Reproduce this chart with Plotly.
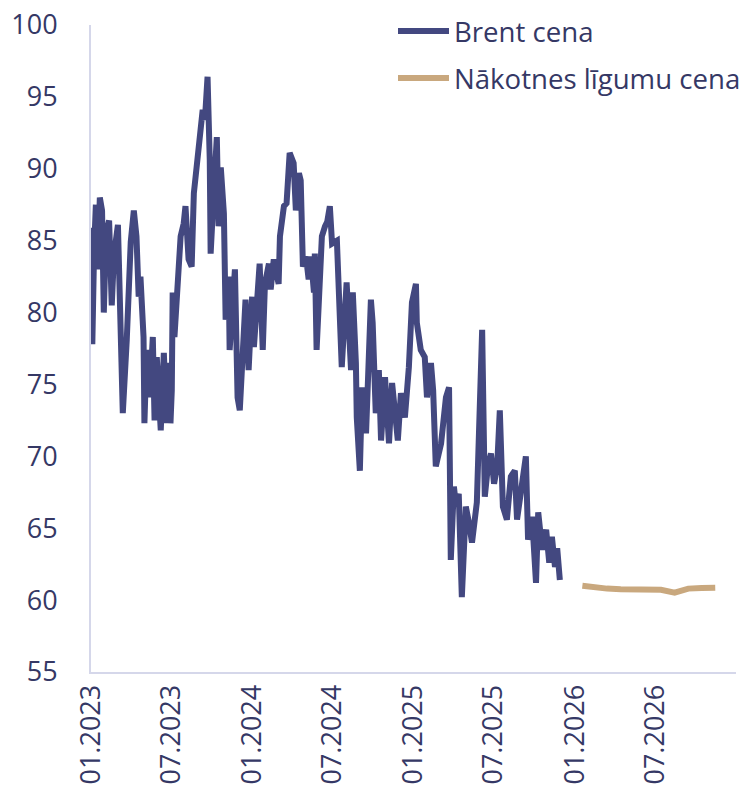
import plotly.graph_objects as go

# Brent price (USD/bbl)
brent_dates = [
    "2023-01-02", "2023-01-04", "2023-01-08", "2023-01-12", "2023-01-16", "2023-01-21",
    "2023-01-26", "2023-01-30", "2023-02-04", "2023-02-11", "2023-02-17", "2023-02-22",
    "2023-03-03", "2023-03-07", "2023-03-14", "2023-03-23",
    "2023-04-01", "2023-04-08", "2023-04-14", "2023-04-19", "2023-04-23", "2023-04-30",
    "2023-05-02", "2023-05-07", "2023-05-14", "2023-05-21", "2023-05-25", "2023-05-30",
    "2023-06-08", "2023-06-15", "2023-06-21", "2023-06-26", "2023-06-30", "2023-07-03",
    "2023-07-05", "2023-07-09", "2023-07-19", "2023-07-23", "2023-07-30", "2023-08-03",
    "2023-08-10", "2023-08-17", "2023-08-22", "2023-08-31", "2023-09-04", "2023-09-11",
    "2023-09-16", "2023-09-22", "2023-09-27", "2023-09-29", "2023-10-06", "2023-10-13",
    "2023-10-17", "2023-10-22", "2023-10-29", "2023-11-02", "2023-11-09", "2023-11-11",
    "2023-11-23", "2023-11-29", "2023-12-04", "2023-12-13", "2023-12-17", "2023-12-24",
    "2023-12-29", "2024-01-01", "2024-01-05", "2024-01-11", "2024-01-18", "2024-01-25",
    "2024-01-30", "2024-02-08", "2024-02-12", "2024-02-19", "2024-03-01", "2024-03-04",
    "2024-03-13", "2024-03-19", "2024-03-26", "2024-04-04", "2024-04-09", "2024-04-16",
    "2024-04-20", "2024-04-25", "2024-05-02", "2024-05-08", "2024-05-13", "2024-05-20",
    "2024-05-22", "2024-05-26", "2024-06-02", "2024-06-07", "2024-06-14", "2024-06-19",
    "2024-06-25", "2024-06-30", "2024-07-11", "2024-07-15", "2024-07-22", "2024-08-02",
    "2024-08-12", "2024-08-16", "2024-08-23", "2024-08-25", "2024-09-01", "2024-09-06",
    "2024-09-15", "2024-09-26", "2024-09-30", "2024-10-07", "2024-10-14", "2024-10-19",
    "2024-10-28", "2024-11-06", "2024-11-13", "2024-11-26", "2024-12-03", "2024-12-12",
    "2024-12-21", "2024-12-28", "2025-01-06", "2025-01-08", "2025-01-17", "2025-01-26",
    "2025-01-31", "2025-02-09", "2025-02-14", "2025-02-20", "2025-03-04", "2025-03-15",
    "2025-03-22", "2025-03-26", "2025-04-02", "2025-04-07", "2025-04-13", "2025-04-20",
    "2025-04-29", "2025-05-06", "2025-05-13", "2025-05-24", "2025-05-31", "2025-06-05",
    "2025-06-11", "2025-06-18", "2025-06-25", "2025-07-02", "2025-07-09", "2025-07-15",
    "2025-07-22", "2025-07-31", "2025-08-09", "2025-08-18", "2025-08-23", "2025-09-03",
    "2025-09-12", "2025-09-17", "2025-09-26", "2025-10-05", "2025-10-10", "2025-10-19",
    "2025-10-28", "2025-11-04", "2025-11-10", "2025-11-17", "2025-11-22", "2025-11-28",
]
brent_values = [
    85.9, 77.8, 84.3, 87.5, 83.0, 88.0,
    87.1, 80.0, 85.5, 86.4, 80.5, 84.0,
    86.1, 81.8, 73.0, 78.1,
    84.9, 87.1, 85.3, 81.1, 82.5, 78.3,
    72.3, 77.4, 74.1, 78.3, 72.5, 76.9,
    71.8, 77.2, 72.3, 76.5, 72.3, 74.6,
    81.4, 78.3, 83.7, 85.3, 86.2, 87.4,
    83.7, 83.2, 88.3, 90.6, 92.2, 94.1,
    93.4, 96.4, 90.6, 84.1, 88.3, 92.2,
    86.0, 90.1, 86.9, 79.5, 82.5, 77.4,
    83.0, 74.1, 73.2, 79.5, 80.9, 76.0,
    79.0, 81.1, 77.6, 80.0, 83.4, 77.4,
    82.0, 83.4, 81.6, 83.7, 82.0, 85.3,
    87.4, 87.6, 91.1, 90.4, 87.1, 89.7,
    89.2, 83.2, 83.9, 82.3, 83.9, 81.4,
    84.1, 77.4, 82.3, 85.3, 86.0, 86.3,
    87.4, 84.8, 85.0, 82.3, 76.2, 82.1,
    76.0, 81.4, 76.5, 72.7, 69.0, 74.8,
    71.6, 80.9, 79.3, 73.0, 76.0, 71.1,
    75.5, 70.9, 75.1, 71.1, 74.4, 72.7,
    76.2, 80.7, 82.0, 79.3, 77.4, 76.9,
    74.1, 76.5, 74.6, 69.3, 70.9, 74.1,
    74.8, 62.8, 67.9, 66.5, 67.4, 60.2,
    66.5, 65.4, 64.0, 66.8, 74.1, 78.8,
    67.2, 69.3, 70.2, 68.1, 69.3, 73.2,
    66.5, 65.6, 68.6, 69.0, 65.6, 68.1,
    70.0, 64.2, 65.8, 61.2, 66.1, 63.5,
    64.9, 62.6, 64.4, 62.3, 63.6, 61.4,
]

# Futures contract price
fut_dates = [
    "2026-01-18", "2026-02-15", "2026-03-15", "2026-04-15", "2026-05-15", "2026-06-15",
    "2026-07-15", "2026-08-15", "2026-09-15", "2026-10-15", "2026-11-15",
]
fut_values = [61.0, 60.88, 60.8, 60.76, 60.76, 60.77, 60.72, 60.52, 60.8, 60.84, 60.86]

tick_vals = ["2023-01-01", "2023-07-01", "2024-01-01", "2024-07-01",
             "2025-01-01", "2025-07-01", "2026-01-01", "2026-07-01"]
tick_text = ["01.2023", "07.2023", "01.2024", "07.2024",
             "01.2025", "07.2025", "01.2026", "07.2026"]

series_names = ["Brent cena", "Nākotnes līgumu cena"]

navy = "#434880"
tan = "#c9a87e"
text_col = "#353865"
axis_col = "#d5d7ea"

fig = go.Figure()
fig.add_trace(go.Scatter(x=brent_dates, y=brent_values, mode="lines", name=series_names[0],
                         line=dict(color=navy, width=6), showlegend=False))
fig.add_trace(go.Scatter(x=fut_dates, y=fut_values, mode="lines", name=series_names[1],
                         line=dict(color=tan, width=6), showlegend=False))

# The page body adds an 8px offset, so the figure is sized to fill the window.
OFF = 8
W, H = 748 - OFF, 799 - OFF
ml, mt = 91 - OFF, 25 - OFF
pw, ph = 645, 647
mr, mb = W - ml - pw, H - mt - ph

def px_x(x):
    return (x - OFF - ml) / pw

def px_y(y):
    return (mt + ph - (y - OFF)) / ph

# Custom legend (longer line samples like the reference)
for i, (name, col) in enumerate(zip(series_names, [navy, tan])):
    yy = 31 + 47 * i
    fig.add_shape(type="line", xref="paper", yref="paper",
                  x0=px_x(398), x1=px_x(449), y0=px_y(yy), y1=px_y(yy),
                  line=dict(color=col, width=6))
    fig.add_annotation(xref="paper", yref="paper", x=px_x(452), y=px_y(yy),
                       xanchor="left", yanchor="middle", text=name, showarrow=False,
                       font=dict(family="Open Sans", size=27.6, color=text_col))

fig.update_layout(
    width=W, height=H,
    margin=dict(l=ml, r=mr, t=mt, b=mb, autoexpand=False),
    paper_bgcolor="white", plot_bgcolor="white",
    font=dict(family="Open Sans", size=27, color=text_col),
    showlegend=False,
)
fig.update_xaxes(type="date", range=["2023-01-01", "2027-01-01"],
                 tickvals=tick_vals, ticktext=tick_text, tickangle=-90,
                 showgrid=False, zeroline=False, showline=True, automargin=False,
                 linecolor=axis_col, linewidth=2, ticks="", ticklabeloverflow="allow")
fig.update_yaxes(range=[55, 100], tickvals=[55, 60, 65, 70, 75, 80, 85, 90, 95, 100],
                 automargin=False, ticklabeloverflow="allow",
                 showgrid=False, zeroline=False, showline=True,
                 linecolor=axis_col, linewidth=2, ticks="",
                 ticklabelstandoff=26)

fig.write_html("out.html")
